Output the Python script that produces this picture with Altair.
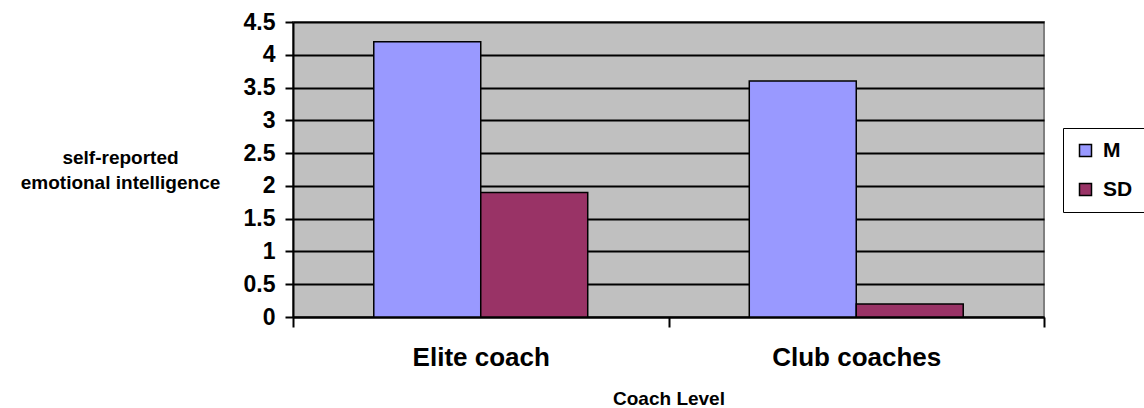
import altair as alt
import pandas as pd

categories = ["Elite coach", "Club coaches"]
series = ["M", "SD"]
m_values = [4.2, 3.6]
sd_values = [1.9, 0.2]
y_ticks = [0, 0.5, 1, 1.5, 2, 2.5, 3, 3.5, 4, 4.5]
colors = ["#9999FF", "#993366"]

rows = []
for i, c in enumerate(categories):
    rows.append({"level": c, "series": "M", "value": m_values[i]})
    rows.append({"level": c, "series": "SD", "value": sd_values[i]})
df = pd.DataFrame(rows)

FONT = "Liberation Sans"

chart = alt.Chart(df).mark_bar(stroke="black", strokeWidth=1.5).encode(
    x=alt.X("level:N", sort=categories,
            scale=alt.Scale(paddingInner=0, paddingOuter=0),
            axis=alt.Axis(title="Coach Level", labelAngle=0, tickBand="extent",
                          tickSize=10, tickWidth=2, tickColor="black",
                          domainColor="black", domainWidth=2,
                          labelFont=FONT, labelFontSize=26, labelFontWeight="bold",
                          labelColor="black", labelPadding=17,
                          titleFont=FONT, titleFontSize=19, titleFontWeight="bold",
                          titleColor="black", titleBaseline="alphabetic", titleY=87)),
    xOffset=alt.XOffset("series:N", sort=series,
                        scale=alt.Scale(paddingInner=0, paddingOuter=0.755)),
    y=alt.Y("value:Q", scale=alt.Scale(domain=[0, 4.5], nice=False),
            axis=alt.Axis(values=y_ticks, format="~g", grid=True,
                          gridColor="black", gridWidth=2,
                          tickSize=8, tickWidth=2, tickColor="black",
                          domainColor="black", domainWidth=2,
                          labelFont=FONT, labelFontSize=23, labelFontWeight="bold",
                          labelColor="black", labelPadding=10,
                          title=["self-reported", "emotional intelligence"],
                          titleAngle=0, titleAlign="center", titleBaseline="alphabetic",
                          titleX=-173, titleY=141, titleLineHeight=25,
                          titleFont=FONT, titleFontSize=19, titleFontWeight="bold",
                          titleColor="black")),
    color=alt.Color("series:N", sort=series,
                    scale=alt.Scale(domain=series, range=colors),
                    legend=alt.Legend(title=None, orient="none", legendX=770, legendY=106,
                                      fillColor="white", strokeColor="black", padding=12,
                                      symbolType="square", symbolSize=144,
                                      symbolStrokeColor="black", symbolStrokeWidth=1.5,
                                      symbolOpacity=1,
                                      labelFont=FONT, labelFontSize=21, labelFontWeight="bold",
                                      labelColor="black", labelOffset=7, rowPadding=17)),
).properties(
    width=751, height=295,
    autosize=alt.AutoSizeParams(type="none"),
    padding={"left": 293, "top": 22, "right": 100, "bottom": 91},
).configure_view(
    fill="#C0C0C0", stroke="#808080", strokeWidth=2
)

chart.save("out.html", embed_options={"renderer": "svg", "actions": False})
